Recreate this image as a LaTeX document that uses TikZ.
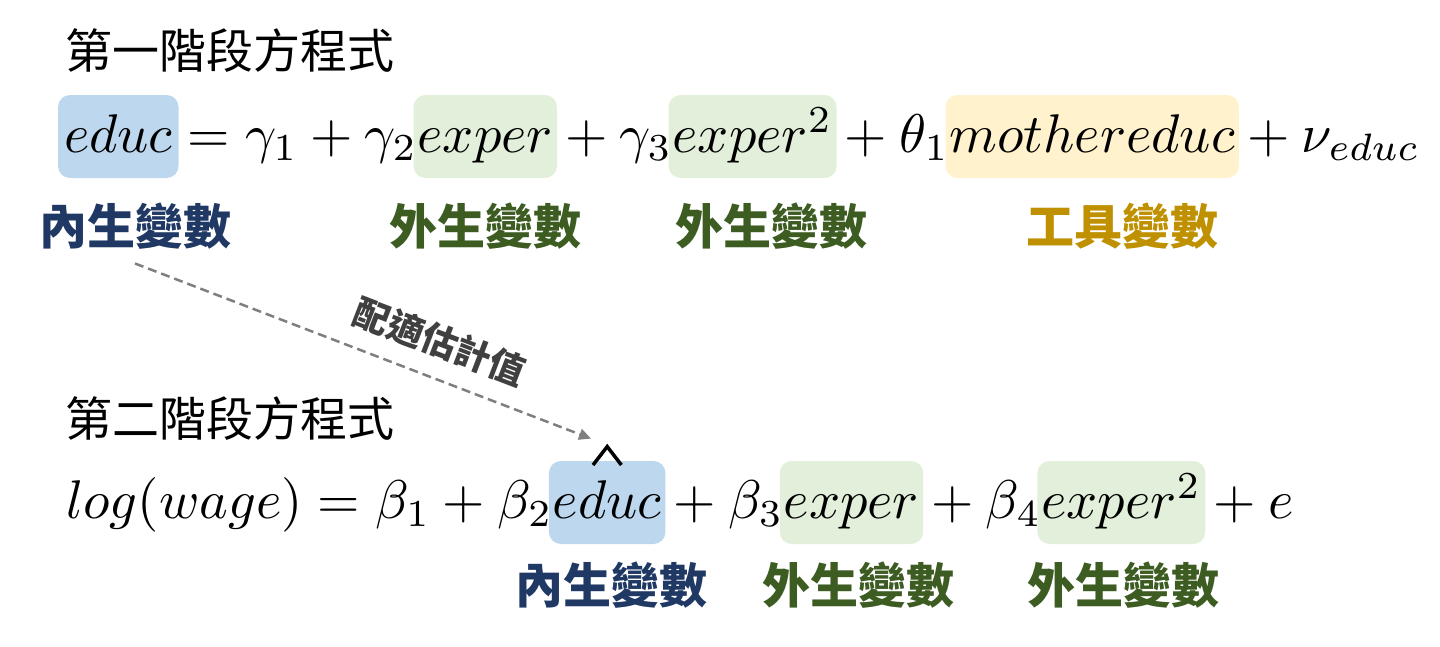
\documentclass[tikz,border=0pt]{standalone}
\usepackage{amsmath}
\usepackage{fontspec}
\usepackage{tikz}
\usetikzlibrary{arrows.meta,positioning}
\newfontfamily\cjk{Noto Sans CJK TC}
\newcommand{\bigeq}[1]{\scalebox{5.45}{$#1$}}

\definecolor{endofill}{HTML}{BDD7EE}
\definecolor{exofill}{HTML}{E2EFDA}
\definecolor{instfill}{HTML}{FFF2CC}
\definecolor{endotext}{HTML}{1F3864}
\definecolor{exotext}{HTML}{3D5C22}
\definecolor{insttext}{HTML}{BF9000}
\definecolor{fitgray}{HTML}{7F7F7F}
\definecolor{fittext}{HTML}{404040}

\begin{document}
\begin{tikzpicture}[
    x=1pt, y=-1pt,
    title/.style={inner sep=0pt, anchor=west, font=\cjk\fontsize{47}{50}\selectfont},
    eqn/.style={inner sep=0pt, anchor=base west},
    term/.style={eqn, rounded corners=12pt, inner xsep=4pt, outer xsep=-4pt, inner ysep=0pt, text height=57pt, text depth=26pt},
    lab/.style={inner sep=0pt, font=\cjk\bfseries\fontsize{48}{50}\selectfont},
    arrow/.style={-{Triangle[length=12pt, width=11pt]}, fitgray, line width=2.5pt, dash pattern=on 9pt off 5pt},
]
    \useasboundingbox (0,0) rectangle (1440,646);

    % First stage
    \node[title] (titleA) at (65,51) {第一階段方程式};
    \node[term, fill=endofill, inner xsep=6pt, outer xsep=-6pt] (educA) at (64,152) {\bigeq{educ}};
    \node[eqn] (eqA1) at (educA.base east) {\bigeq{{}=\gamma_1+\gamma_2}};
    \node[term, fill=exofill] (experA) at (eqA1.base east) {\bigeq{exper}};
    \node[eqn] (eqA2) at (experA.base east) {\bigeq{{}+\gamma_3}};
    \node[term, fill=exofill] (expsqA) at (eqA2.base east) {\bigeq{exper^2}};
    \node[eqn] (eqA3) at (expsqA.base east) {\bigeq{{}+\theta_1}};
    \node[term, fill=instfill] (motherA) at (eqA3.base east) {\bigeq{mothereduc}};
    \node[eqn] (eqA4) at (motherA.base east) {\bigeq{{}+\nu_{educ}}};

    % First stage labels
    \node[lab, text=endotext] (labA1) at (135,226) {內生變數};
    \node[lab, text=exotext] (labA2) at (485,226) {外生變數};
    \node[lab, text=exotext] (labA3) at (771,226) {外生變數};
    \node[lab, text=insttext] (labA4) at (1122,226) {工具變數};

    % Second stage
    \node[title] (titleB) at (65,419) {第二階段方程式};
    \node[eqn] (eqB1) at (66,518) {\bigeq{log(wage)=\beta_1+\beta_2}};
    \node[term, fill=endofill] (educB) at (eqB1.base east) {\bigeq{educ}};
    \node[eqn] (eqB2) at (educB.base east) {\bigeq{{}+\beta_3}};
    \node[term, fill=exofill] (experB) at (eqB2.base east) {\bigeq{exper}};
    \node[eqn] (eqB3) at (experB.base east) {\bigeq{{}+\beta_4}};
    \node[term, fill=exofill] (expsqB) at (eqB3.base east) {\bigeq{exper^2}};
    \node[eqn] (eqB4) at (expsqB.base east) {\bigeq{{}+e}};

    % hat on educ
    \node[inner sep=0pt, minimum width=28pt, minimum height=18pt] (hat) at ([yshift=5pt]educB.north) {};
    \draw[line width=3.5pt, line join=miter] (hat.south west) -- (hat.north) -- (hat.south east);

    % Second stage labels
    \node[lab, text=endotext] (labB1) at (611,585) {內生變數};
    \node[lab, text=exotext] (labB2) at (858,585) {外生變數};
    \node[lab, text=exotext] (labB3) at (1123,585) {外生變數};

    % Fitted value
    \draw[arrow] ([yshift=-14pt]labA1.south) -- ([xshift=-2pt,yshift=8pt]hat.north west)
        node[pos=0.64, sloped, above=18pt, inner sep=0pt, text=fittext, font=\cjk\bfseries\fontsize{36}{38}\selectfont] (fitlab) {配適估計值};
\end{tikzpicture}
\end{document}
